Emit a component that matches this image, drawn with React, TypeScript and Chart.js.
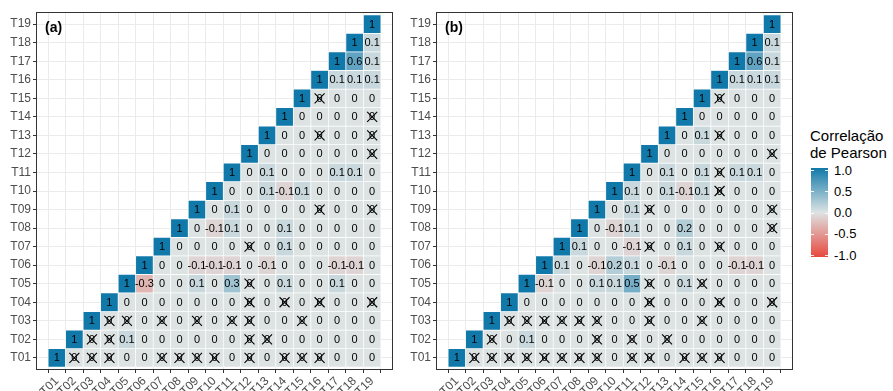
import React, { useEffect, useRef } from 'react';
import { Chart, registerables } from 'chart.js';

Chart.register(...registerables);

// ---- categories ----
const variables = ['T01', 'T02', 'T03', 'T04', 'T05', 'T06', 'T07', 'T08', 'T09', 'T10',
  'T11', 'T12', 'T13', 'T14', 'T15', 'T16', 'T17', 'T18', 'T19'];

// ---- panel (a): row Ti lists r(Ti, Tj) for j = i..19 ----
const corrA: number[][] = [
  [1, 0, 0, 0, 0, 0, 0, 0, 0, 0, 0, 0, 0, 0, 0, 0, 0, 0, 0],
  [1, 0, 0, 0.1, 0, 0, 0, 0, 0, 0, 0, 0, 0, 0, 0, 0, 0, 0],
  [1, 0, 0, 0, 0, 0, 0, 0, 0, 0, 0, 0, 0, 0, 0, 0, 0],
  [1, 0, 0, 0, 0, 0, 0, 0, 0, 0, 0, 0, 0, 0, 0, 0],
  [1, -0.3, 0, 0, 0.1, 0, 0.3, 0, 0, 0.1, 0, 0, 0.1, 0, 0],
  [1, 0, 0, -0.1, -0.1, -0.1, 0, -0.1, 0, 0, 0, -0.1, -0.1, 0],
  [1, 0, 0, 0, 0, 0, 0, 0.1, 0, 0, 0, 0, 0],
  [1, 0, -0.1, 0.1, 0, 0, 0.1, 0, 0, 0, 0, 0],
  [1, 0, 0.1, 0, 0, 0, 0, 0, 0, 0, 0],
  [1, 0, 0, 0.1, -0.1, 0.1, 0, 0, 0, 0],
  [1, 0, 0.1, 0, 0, 0, 0.1, 0.1, 0],
  [1, 0, 0, 0, 0, 0, 0, 0],
  [1, 0, 0, 0, 0, 0, 0],
  [1, 0, 0, 0, 0, 0],
  [1, 0, 0, 0, 0],
  [1, 0.1, 0.1, 0.1],
  [1, 0.6, 0.1],
  [1, 0.1],
  [1],
];
// non-significant cells (column numbers) for each row of panel (a)
const insigA: number[][] = [
  [2, 3, 4, 7, 8, 9, 10, 12, 14, 15, 16],
  [3, 4, 12, 13],
  [4, 5, 7, 9, 11, 12, 15],
  [12, 14, 16, 19],
  [12],
  [],
  [12],
  [],
  [16, 19],
  [],
  [],
  [19],
  [16, 19],
  [19],
  [16],
  [],
  [],
  [],
  [],
];

// ---- panel (b) ----
const corrB: number[][] = [
  [1, 0, 0, 0, 0, 0, 0, 0, 0, 0, 0, 0, 0, 0, 0, 0, 0, 0, 0],
  [1, 0, 0, 0.1, 0, 0, 0, 0, 0, 0, 0, 0, 0, 0, 0, 0, 0, 0],
  [1, 0, 0, 0, 0, 0, 0, 0, 0, 0, 0, 0, 0, 0, 0, 0, 0],
  [1, 0, 0, 0, 0, 0, 0, 0, 0, 0, 0, 0, 0, 0, 0, 0],
  [1, -0.1, 0, 0, 0.1, 0.1, 0.5, 0, 0, 0.1, 0, 0, 0, 0, 0],
  [1, 0.1, 0, -0.1, 0.2, 0.1, 0, -0.1, 0, 0, 0, -0.1, -0.1, 0],
  [1, 0.1, 0, 0, -0.1, 0, 0, 0.1, 0, 0, 0, 0, 0],
  [1, 0, -0.1, 0.1, 0, 0, 0.2, 0, 0, 0, 0, 0],
  [1, 0, 0.1, 0, 0, 0, 0, 0, 0, 0, 0],
  [1, 0.1, 0, 0.1, -0.1, 0.1, 0, 0, 0, 0],
  [1, 0, 0.1, 0, 0.1, 0, 0.1, 0.1, 0],
  [1, 0, 0, 0, 0, 0, 0, 0],
  [1, 0, 0.1, 0, 0, 0, 0],
  [1, 0, 0, 0, 0, 0],
  [1, 0, 0, 0, 0],
  [1, 0.1, 0.1, 0.1],
  [1, 0.6, 0.1],
  [1, 0.1],
  [1],
];
const insigB: number[][] = [
  [2, 3, 4, 5, 6, 7, 8, 9, 11, 12, 14, 15, 16],
  [3, 9, 11, 13],
  [4, 5, 6, 7, 8, 9, 12, 15],
  [12, 16, 19],
  [12, 15],
  [],
  [12, 16],
  [19],
  [12, 19],
  [16],
  [16],
  [19],
  [16],
  [],
  [16],
  [],
  [],
  [],
  [],
];

// ---- legend ----
const legendTicks = [1.0, 0.5, 0.0, -0.5, -1.0];
const legendTitle = ['Correlação', 'de Pearson'];

const HIGH = [16, 121, 170];
const MID = [221, 227, 227];
const LOW = [232, 72, 62];
const FONT = '"Liberation Sans", Arial, Helvetica, sans-serif';

function rgb(c: number[]) {
  return `rgb(${c.map((x) => Math.round(x)).join(',')})`;
}
function fillFor(v: number) {
  const t = Math.min(1, Math.abs(v));
  const end = v >= 0 ? HIGH : LOW;
  return rgb(MID.map((m, k) => m + (end[k] - m) * t));
}
function fmt(v: number) {
  return v === 0 ? '0' : String(v);
}

type Cell = { x: number; y: [number, number]; v: number; ns: boolean };

function buildCells(corr: number[][], insig: number[][]): Cell[] {
  const cells: Cell[] = [];
  corr.forEach((row, r) => {
    const i = r + 1;
    row.forEach((v, k) => {
      const j = i + k;
      cells.push({ x: j, y: [i - 0.5, i + 0.5], v, ns: insig[r].includes(j) });
    });
  });
  return cells;
}

const cellTextPlugin = {
  id: 'cellText',
  afterDatasetsDraw(chart: any) {
    const ctx = chart.ctx;
    const meta = chart.getDatasetMeta(0);
    const data = chart.data.datasets[0].data as Cell[];
    ctx.save();
    ctx.font = `11px ${FONT}`;
    ctx.textAlign = 'center';
    ctx.textBaseline = 'middle';
    ctx.fillStyle = '#000';
    ctx.strokeStyle = '#000';
    ctx.lineWidth = 1.1;
    meta.data.forEach((el: any, i: number) => {
      const d = data[i];
      const p = el.getProps(['x', 'y', 'base'], true);
      const cy = (p.y + p.base) / 2;
      ctx.fillText(fmt(d.v), p.x, cy + 0.5);
      if (d.ns) {
        const h = 5;
        ctx.beginPath();
        ctx.moveTo(p.x - h, cy - h);
        ctx.lineTo(p.x + h, cy + h);
        ctx.moveTo(p.x + h, cy - h);
        ctx.lineTo(p.x - h, cy + h);
        ctx.stroke();
      }
    });
    ctx.restore();
  },
};

const frameTagPlugin = {
  id: 'frameTag',
  afterDraw(chart: any, _args: any, opts: any) {
    const { ctx, chartArea } = chart;
    ctx.save();
    ctx.strokeStyle = '#333333';
    ctx.lineWidth = 1;
    ctx.strokeRect(
      Math.round(chartArea.left) - 0.5,
      Math.round(chartArea.top) - 0.5,
      Math.round(chartArea.right - chartArea.left) + 1,
      Math.round(chartArea.bottom - chartArea.top) + 1
    );
    ctx.font = `bold 14px ${FONT}`;
    ctx.fillStyle = '#000';
    ctx.textAlign = 'left';
    ctx.textBaseline = 'middle';
    ctx.fillText(opts.tag, chartArea.left + 8, chartArea.top + 15);
    ctx.restore();
  },
};

function makeConfig(corr: number[][], insig: number[][], tag: string): any {
  const cells = buildCells(corr, insig);
  const axisCommon = (isX: boolean) => ({
    type: 'linear',
    min: 0.4,
    max: 19.6,
    afterBuildTicks: (ax: any) => {
      ax.ticks = variables.map((_, i) => ({ value: i + 1 }));
    },
    afterFit: (ax: any) => {
      if (isX) ax.height = 22;
      else ax.width = 37;
    },
    ticks: {
      autoSkip: false,
      callback: (val: number) => variables[Math.round(val) - 1],
      color: '#4d4d4d',
      font: { family: FONT, size: 12 },
      padding: isX ? 1 : 2,
      ...(isX ? { maxRotation: 45, minRotation: 45 } : {}),
    },
    grid: { color: '#ebebeb', lineWidth: 1, tickColor: '#333333', tickLength: 4 },
    border: { display: false },
  });
  return {
    type: 'bar',
    data: {
      datasets: [
        {
          data: cells,
          backgroundColor: (c: any) => fillFor(c.raw ? c.raw.v : 0),
          borderColor: '#ffffff',
          borderWidth: 0.7,
          borderSkipped: false,
          barPercentage: 1,
          categoryPercentage: 1,
        },
      ],
    },
    options: {
      animation: false,
      responsive: false,
      devicePixelRatio: 1,
      layout: { padding: { top: 13, right: 8, left: 0, bottom: 0 } },
      plugins: {
        legend: { display: false },
        tooltip: { enabled: false },
        frameTag: { tag },
      },
      scales: { x: axisCommon(true), y: axisCommon(false) },
    },
    plugins: [cellTextPlugin, frameTagPlugin],
  };
}

function Panel({ corr, insig, tag, left }: { corr: number[][]; insig: number[][]; tag: string; left: number }) {
  const ref = useRef<HTMLCanvasElement | null>(null);
  useEffect(() => {
    if (!ref.current) return;
    const chart = new Chart(ref.current, makeConfig(corr, insig, tag));
    return () => chart.destroy();
  }, [corr, insig, tag]);
  return (
    <canvas
      ref={ref}
      width={400}
      height={391}
      style={{ position: 'absolute', left, top: 0, width: 400, height: 391 }}
    />
  );
}

function Legend() {
  const barTop = 168;
  const barH = 89;
  const step = 21.25;
  const first = 170.5;
  return (
    <div style={{ position: 'absolute', left: 0, top: 0, fontFamily: FONT, color: '#000' }}>
      <div style={{ position: 'absolute', left: 810, top: 127, fontSize: 15, lineHeight: '17px', whiteSpace: 'nowrap' }}>
        {legendTitle.map((t) => (
          <div key={t}>{t}</div>
        ))}
      </div>
      <div
        style={{
          position: 'absolute',
          left: 811,
          top: barTop,
          width: 17,
          height: barH,
          background: `linear-gradient(to bottom, ${rgb(HIGH)} 0%, ${rgb(MID)} 50%, ${rgb(LOW)} 100%)`,
        }}
      />
      {legendTicks.map((v, k) => (
        <React.Fragment key={v}>
          <div style={{ position: 'absolute', left: 811, top: first + k * step - 0.5, width: 3, height: 1, background: 'rgba(255,255,255,0.9)' }} />
          <div style={{ position: 'absolute', left: 825, top: first + k * step - 0.5, width: 3, height: 1, background: 'rgba(255,255,255,0.9)' }} />
          <div
            style={{
              position: 'absolute',
              left: 834,
              top: first + k * step - 8,
              height: 16,
              lineHeight: '16px',
              fontSize: 13,
              whiteSpace: 'nowrap',
            }}
          >
            {v.toFixed(1)}
          </div>
        </React.Fragment>
      ))}
    </div>
  );
}

export default function App() {
  return (
    <div style={{ position: 'fixed', left: 0, top: 0, width: 893, height: 391, background: '#fff', overflow: 'hidden' }}>
      <Panel corr={corrA} insig={insigA} tag="(a)" left={0} />
      <Panel corr={corrB} insig={insigB} tag="(b)" left={400} />
      <Legend />
    </div>
  );
}
